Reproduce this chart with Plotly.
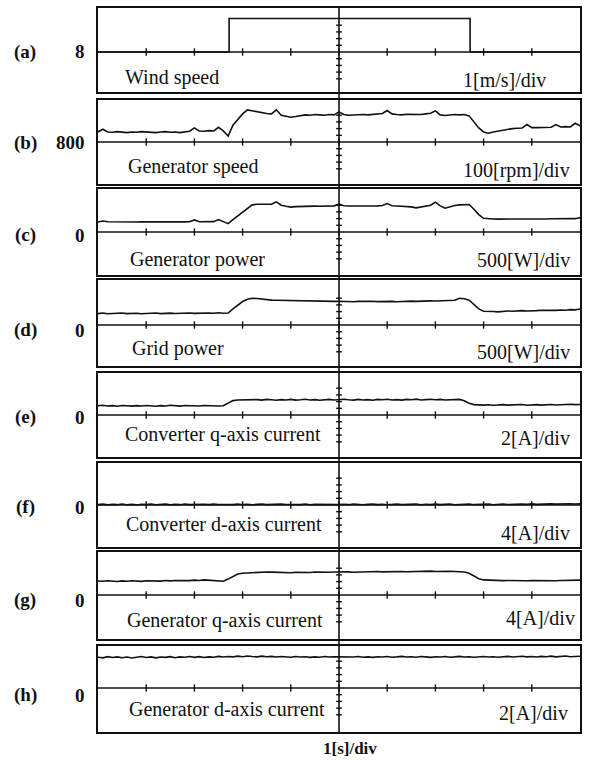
import plotly.graph_objects as go

# ---------------- data ----------------
time_s = [round(i * 0.1, 1) for i in range(101)]  # 0 .. 10 s, 1 s/div

wind_t = [0.0, 2.72, 2.72, 7.72, 7.72, 10.0]
wind_speed = [8.0, 8.0, 9.0, 9.0, 8.0, 8.0]  # m/s

gen_speed = [830, 838, 830, 829, 831, 830, 828, 830, 829, 831,
             830, 829, 828, 830, 831, 829, 830, 828, 831, 832,
             842, 833, 832, 834, 833, 844, 833, 818, 850, 866,
             884, 896, 893, 890, 887, 885, 884, 896, 880, 876,
             874, 876, 879, 881, 880, 882, 881, 880, 882, 881,
             890, 882, 880, 881, 883, 882, 881, 883, 884, 885,
             894, 884, 882, 881, 883, 882, 881, 882, 884, 886,
             893, 881, 879, 881, 882, 881, 882, 878, 860, 842,
             830, 826, 830, 833, 836, 838, 840, 841, 842, 852,
             843, 843, 844, 845, 844, 852, 845, 846, 845, 856, 848]  # rpm

gen_power = [150, 165, 152, 150, 148, 151, 150, 147, 149, 151,
             150, 148, 150, 151, 149, 150, 152, 150, 151, 153,
             180, 154, 153, 152, 155, 185, 152, 125, 185, 240,
             300, 360, 405, 415, 414, 416, 415, 450, 400, 385,
             372, 378, 382, 385, 384, 386, 385, 387, 386, 390,
             415, 392, 388, 386, 388, 387, 385, 388, 390, 395,
             425, 392, 388, 384, 380, 375, 360, 375, 385, 400,
             445, 390, 355, 380, 395, 405, 412, 410, 340, 260,
             205, 195, 193, 192, 194, 190, 192, 194, 195, 193,
             191, 194, 196, 195, 197, 196, 198, 196, 197, 199, 215]  # W

grid_power = [170, 178, 168, 175, 172, 180, 170, 174, 176, 169,
              175, 172, 178, 170, 175, 177, 171, 176, 173, 179,
              174, 178, 172, 180, 176, 182, 175, 178, 240, 300,
              350, 385, 400, 395, 385, 378, 372, 370, 368, 365,
              362, 358, 360, 355, 358, 352, 356, 350, 354, 352,
              355, 350, 354, 348, 352, 356, 350, 354, 349, 353,
              358, 352, 348, 354, 350, 356, 352, 358, 355, 360,
              358, 362, 360, 365, 370, 400, 392, 370, 300, 240,
              205, 198, 202, 196, 205, 210, 206, 212, 215, 210,
              218, 215, 220, 216, 222, 218, 224, 220, 230, 226, 240]  # W

conv_iq = [0.55, 0.58, 0.54, 0.56, 0.52, 0.57, 0.55, 0.53, 0.56, 0.54,
           0.57, 0.55, 0.52, 0.56, 0.54, 0.58, 0.55, 0.53, 0.57, 0.55,
           0.56, 0.54, 0.57, 0.55, 0.56, 0.54, 0.55, 0.72, 0.86, 0.90,
           0.91, 0.93, 0.90, 0.92, 0.89, 0.93, 0.91, 0.88, 0.92, 0.90,
           0.93, 0.89, 0.91, 0.94, 0.90, 0.92, 0.88, 0.91, 0.93, 0.90,
           0.92, 0.94, 0.91, 0.89, 0.93, 0.90, 0.92, 0.88, 0.93, 0.91,
           0.94, 0.90, 0.92, 0.89, 0.93, 0.91, 0.95, 0.90, 0.92, 0.94,
           0.91, 0.93, 0.90, 0.92, 0.94, 0.93, 0.85, 0.70, 0.62, 0.60,
           0.59, 0.61, 0.58, 0.60, 0.62, 0.59, 0.61, 0.60, 0.63, 0.58,
           0.61, 0.62, 0.59, 0.61, 0.63, 0.60, 0.62, 0.61, 0.64, 0.62, 0.63]  # A

conv_id = [0.05, 0.10, 0.02, 0.08, 0.04, 0.11, 0.03, 0.07, 0.01, 0.09,
           0.05, 0.12, 0.03, 0.06, 0.10, 0.02, 0.08, 0.04, 0.11, 0.05,
           0.07, 0.02, 0.09, 0.04, 0.10, 0.06, 0.03, 0.08, 0.05, 0.11,
           0.04, 0.09, 0.02, 0.07, 0.12, 0.05, 0.08, 0.03, 0.10, 0.06,
           0.04, 0.09, 0.05, 0.11, 0.03, 0.08, 0.06, 0.10, 0.02, 0.07,
           0.05, 0.09, 0.04, 0.11, 0.06, 0.03, 0.08, 0.12, 0.05, 0.09,
           0.03, 0.07, 0.10, 0.04, 0.08, 0.06, 0.11, 0.02, 0.09, 0.05,
           0.10, 0.04, 0.07, 0.12, 0.03, 0.08, 0.06, 0.11, 0.04, 0.09,
           0.05, 0.10, 0.03, 0.08, 0.12, 0.06, 0.09, 0.04, 0.11, 0.07,
           0.13, 0.08, 0.12, 0.09, 0.14, 0.10, 0.13, 0.11, 0.15, 0.12, 0.14]  # A

gen_iq = [1.68, 1.64, 1.70, 1.66, 1.62, 1.69, 1.65, 1.71, 1.67, 1.63,
          1.70, 1.68, 1.72, 1.66, 1.74, 1.69, 1.73, 1.70, 1.76, 1.72,
          1.78, 1.74, 1.80, 1.75, 1.71, 1.68, 1.65, 1.90, 2.25, 2.50,
          2.60, 2.64, 2.68, 2.72, 2.70, 2.75, 2.73, 2.70, 2.67, 2.64,
          2.66, 2.70, 2.68, 2.72, 2.69, 2.74, 2.71, 2.68, 2.72, 2.75,
          2.78, 2.74, 2.76, 2.72, 2.75, 2.78, 2.74, 2.77, 2.80, 2.76,
          2.79, 2.82, 2.78, 2.81, 2.77, 2.80, 2.83, 2.79, 2.82, 2.85,
          2.81, 2.84, 2.86, 2.83, 2.80, 2.78, 2.74, 2.60, 2.25, 1.95,
          1.80, 1.76, 1.73, 1.75, 1.72, 1.74, 1.71, 1.75, 1.73, 1.70,
          1.74, 1.72, 1.76, 1.73, 1.75, 1.71, 1.74, 1.77, 1.73, 1.75, 1.78]  # A

gen_id = [1.84, 1.80, 1.87, 1.82, 1.86, 1.81, 1.85, 1.79, 1.84, 1.88,
          1.82, 1.86, 1.80, 1.85, 1.83, 1.87, 1.81, 1.86, 1.84, 1.88,
          1.83, 1.87, 1.82, 1.86, 1.84, 1.89, 1.85, 1.88, 1.86, 1.90,
          1.87, 1.91, 1.88, 1.86, 1.90, 1.87, 1.89, 1.85, 1.88, 1.86,
          1.84, 1.88, 1.85, 1.87, 1.83, 1.86, 1.84, 1.88, 1.85, 1.87,
          1.86, 1.84, 1.87, 1.85, 1.88, 1.84, 1.86, 1.83, 1.87, 1.85,
          1.88, 1.84, 1.86, 1.89, 1.85, 1.87, 1.84, 1.88, 1.86, 1.83,
          1.87, 1.85, 1.88, 1.84, 1.86, 1.89, 1.85, 1.87, 1.84, 1.86,
          1.88, 1.85, 1.87, 1.84, 1.86, 1.89, 1.85, 1.87, 1.90, 1.86,
          1.88, 1.85, 1.89, 1.87, 1.90, 1.86, 1.88, 1.91, 1.87, 1.89, 1.90]  # A

panel_tags = ["(a)", "(b)", "(c)", "(d)", "(e)", "(f)", "(g)", "(h)"]
zero_labels = ["8", "800", "0", "0", "0", "0", "0", "0"]
names = ["Wind speed", "Generator speed", "Generator power", "Grid power",
         "Converter q-axis current", "Converter d-axis current",
         "Generator q-axis current", "Generator d-axis current"]
scale_labels = ["1[m/s]/div", "100[rpm]/div", "500[W]/div", "500[W]/div",
                "2[A]/div", "4[A]/div", "4[A]/div", "2[A]/div"]
offsets = [8, 800, 0, 0, 0, 0, 0, 0]
per_div = [1, 100, 500, 500, 2, 4, 4, 2]
time_label = "1[s]/div"

series = [(wind_t, wind_speed), (time_s, gen_speed), (time_s, gen_power),
          (time_s, grid_power), (time_s, conv_iq), (time_s, conv_id),
          (time_s, gen_iq), (time_s, gen_id)]

# ---------------- layout constants (pixels) ----------------
W, H = 593, 760
X0, X1 = 98, 580
PX_PER_DIV = 33.5
panel_px = [(8, 52, 92), (100, 142, 184), (189, 232, 275), (280, 325, 366),
            (373, 415, 457), (463, 505, 547), (552, 595, 639), (646, 688, 732)]
tag_y = [52, 143, 235, 330, 417, 507, 600, 695]
name_pos = [(123, 77), (126, 167), (128, 260), (130, 348),
            (123, 435), (124, 524), (125, 620), (127, 709)]
scale_pos = [(548, 80), (572, 170), (572, 260), (572, 352),
             (572, 438), (572, 533), (577, 618), (570, 713)]

SERIF = "Liberation Serif, Times New Roman, serif"
INK = "#111111"

fig = go.Figure()
layout = dict(width=W, height=H, margin=dict(l=0, r=0, t=0, b=0),
              paper_bgcolor="white", plot_bgcolor="white", showlegend=False)
shapes, annotations = [], []

def py(p):
    return 1 - p / H

for i in range(8):
    n = i + 1
    xa = "x" if n == 1 else f"x{n}"
    ya = "y" if n == 1 else f"y{n}"
    top, base, bot = panel_px[i]
    lo = offsets[i] - per_div[i] * (bot - base) / PX_PER_DIV
    hi = offsets[i] + per_div[i] * (base - top) / PX_PER_DIV
    axkw = dict(showticklabels=False, ticks="", showgrid=False, zeroline=False,
                showline=True, mirror=True, linecolor=INK, linewidth=1.8,
                fixedrange=True)
    layout["xaxis" if n == 1 else f"xaxis{n}"] = dict(
        domain=[X0 / W, X1 / W], range=[0, 10], anchor=ya, **axkw)
    layout["yaxis" if n == 1 else f"yaxis{n}"] = dict(
        domain=[py(bot), py(top)], range=[lo, hi], anchor=xa, **axkw)

    tx, ty = series[i]
    fig.add_trace(go.Scatter(x=tx, y=ty, mode="lines", xaxis=xa, yaxis=ya,
                             line=dict(color=INK, width=1.6),
                             hoverinfo="skip"))

    off, sc = offsets[i], per_div[i]
    # zero line with division ticks
    shapes.append(dict(type="line", xref=xa, yref=ya, x0=0, x1=10, y0=off, y1=off,
                       line=dict(color=INK, width=1.5), layer="above"))
    for k in range(1, 10):
        shapes.append(dict(type="line", xref=xa, yref=ya, x0=k, x1=k,
                           y0=off - sc * 0.11, y1=off + sc * 0.11,
                           line=dict(color=INK, width=1.4)))
    # minor ticks on the centre graticule line
    for j in (-4, -3, -2, -1, 1, 2, 3, 4):
        shapes.append(dict(type="line", xref=xa, yref=ya, x0=4.94, x1=5.06,
                           y0=off + sc * 0.2 * j, y1=off + sc * 0.2 * j,
                           line=dict(color=INK, width=1.4)))

    annotations.append(dict(text=f"<b>{panel_tags[i]}</b>", x=25 / W, y=py(tag_y[i]),
                            xref="paper", yref="paper", xanchor="center", yanchor="middle",
                            showarrow=False, font=dict(family=SERIF, size=19, color=INK)))
    annotations.append(dict(text=f"<b>{zero_labels[i]}</b>", x=87 / W, y=py(tag_y[i]),
                            xref="paper", yref="paper", xanchor="right", yanchor="middle",
                            showarrow=False, font=dict(family=SERIF, size=19, color=INK)))
    annotations.append(dict(text=names[i], x=name_pos[i][0] / W, y=py(name_pos[i][1]),
                            xref="paper", yref="paper", xanchor="left", yanchor="middle",
                            showarrow=False, font=dict(family=SERIF, size=20, color=INK)))
    annotations.append(dict(text=scale_labels[i], x=scale_pos[i][0] / W, y=py(scale_pos[i][1]),
                            xref="paper", yref="paper", xanchor="right", yanchor="middle",
                            showarrow=False, font=dict(family=SERIF, size=20, color=INK)))

# centre vertical graticule line through all panels
shapes.append(dict(type="line", xref="x", yref="paper", x0=5, x1=5,
                   y0=py(732), y1=py(8), line=dict(color=INK, width=1.6)))

annotations.append(dict(text=f"<b>{time_label}</b>", x=350 / W, y=py(748),
                        xref="paper", yref="paper", xanchor="center", yanchor="middle",
                        showarrow=False, font=dict(family=SERIF, size=17, color=INK)))

layout["shapes"] = shapes
layout["annotations"] = annotations
fig.update_layout(**layout)
fig.write_html("out.html", config={"displayModeBar": False},
               post_script="document.body.style.margin='0';document.body.style.overflow='hidden';")
